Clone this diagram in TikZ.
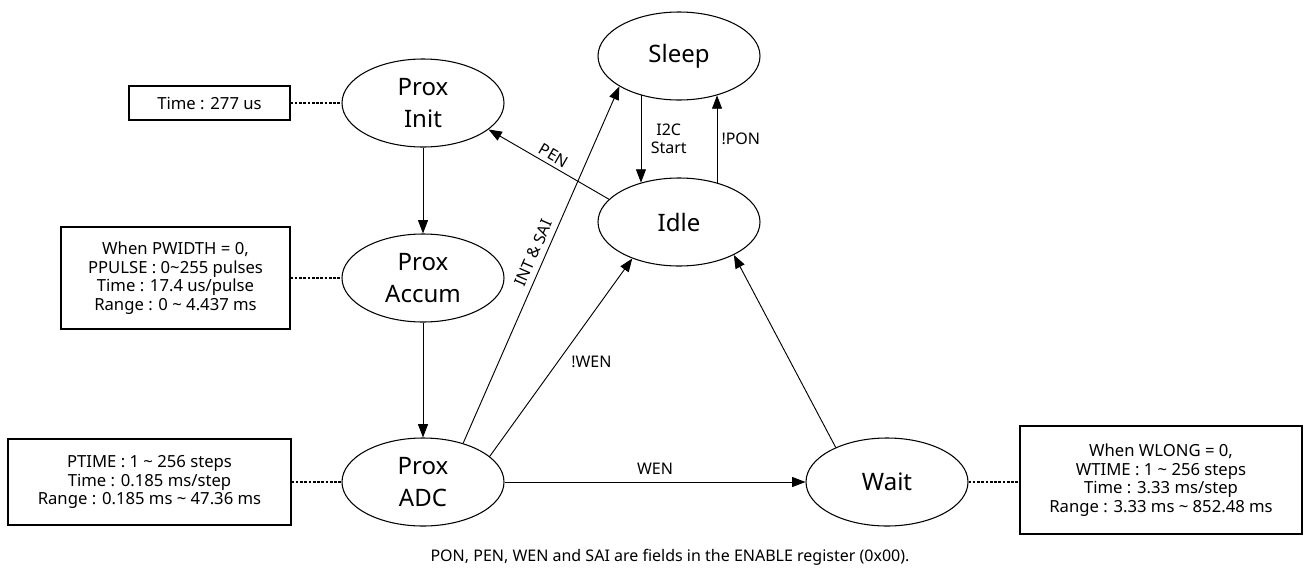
\documentclass[tikz,border=0pt]{standalone}
\usepackage{fontspec}
\setmainfont{Noto Sans}
\usetikzlibrary{shapes.geometric, arrows.meta}

\begin{document}
\begin{tikzpicture}[x=0.75pt, y=-0.75pt,
  state/.style={ellipse, draw, line width=0.8pt, minimum width=121.5pt, minimum height=66pt, inner sep=0pt, align=center, font=\fontsize{18}{24}\selectfont},
  note/.style={rectangle, draw, line width=0.8pt, inner sep=0pt, align=center, font=\fontsize{12.5}{14}\selectfont},
  link/.style={-{Triangle[length=10pt,width=7.5pt]}, line width=0.7pt},
  tie/.style={dash pattern=on 2pt off 1.2pt, line width=0.8pt},
  lbl/.style={font=\fontsize{12}{13.5}\selectfont, inner sep=2pt, align=center}]
\useasboundingbox (0,0) rectangle (1306,568);

% states
\node[state] (sleep) at (679,56) {Sleep};
\node[state] (idle) at (679,222) {Idle};
\node[state] (init) at (423,103) {Prox\\Init};
\node[state] (accum) at (423,278) {Prox\\Accum};
\node[state] (adc) at (423,482) {Prox\\ADC};
\node[state] (wait) at (887,482) {Wait};

% timing notes
\node[note, minimum width=120.75pt, minimum height=25.5pt] (initnote) at (209.5,103) {Time : 277 us};
\node[note, minimum width=171.75pt, minimum height=76.5pt] (accumnote) at (175.5,278) {When PWIDTH = 0,\\PPULSE : 0\textasciitilde255 pulses\\Time : 17.4 us/pulse\\Range : 0 \textasciitilde\ 4.437 ms};
\node[note, minimum width=212.25pt, minimum height=64.5pt] (adcnote) at (149.5,482) {PTIME : 1 \textasciitilde\ 256 steps\\Time : 0.185 ms/step\\Range : 0.185 ms \textasciitilde\ 47.36 ms};
\node[note, minimum width=211.5pt, minimum height=81pt] (waitnote) at (1161,480) {When WLONG = 0,\\WTIME : 1 \textasciitilde\ 256 steps\\Time : 3.33 ms/step\\Range : 3.33 ms \textasciitilde\ 852.48 ms};

\draw[tie] (initnote.east) -- (init.west);
\draw[tie] (accumnote.east) -- (accum.west);
\draw[tie] (adcnote.east) -- (adc.west);
\draw[tie] (wait.east) -- (waitnote.west |- wait.east);

% transitions
\draw[link] (init) -- (accum);
\draw[link] (accum) -- (adc);
\draw[link] (sleep.-134) -- node[lbl, right=5pt] {I2C\\Start} (idle.134);
\draw[link] (idle.46) -- node[lbl, right=1pt] {!PON} (sleep.-46);
\draw[link] (idle.162) -- node[lbl, sloped, above=1pt] {PEN} (init.-22);
\draw[link] (adc.44) -- node[lbl, sloped, above=2pt, pos=0.52] {INT \& SAI} (sleep.-153);
\draw[link] (adc.21) -- node[lbl, right=7.5pt, pos=0.48] {!WEN} (idle.-142);
\draw[link] (adc.east) -- node[lbl, above=3pt] {WEN} (wait.west);
\draw[link] (wait.146) -- (idle.-31);

\node[lbl] (footer) at (670,557) {PON, PEN, WEN and SAI are fields in the ENABLE register (0x00).};
\end{tikzpicture}
\end{document}
